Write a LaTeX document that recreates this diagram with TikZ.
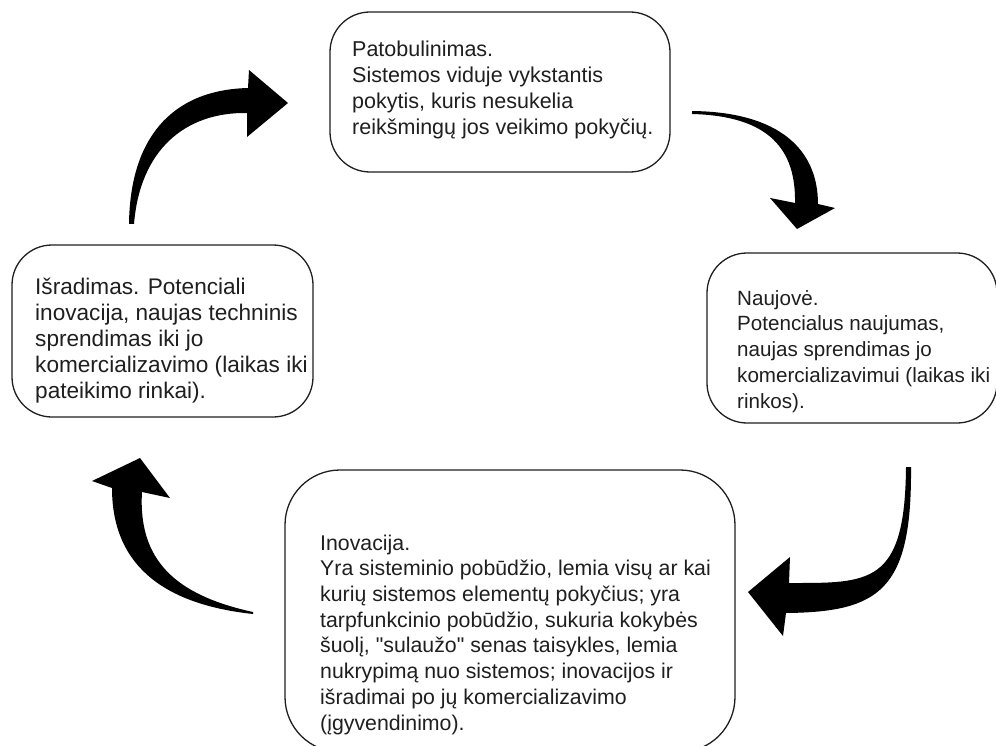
\documentclass[tikz,border=0pt]{standalone}
\usepackage{fontspec}
\setmainfont{Liberation Sans}
\newfontfamily\plainsans{Liberation Sans}
\begin{document}
\begin{tikzpicture}[x=1pt,y=-1pt,
  box/.style={draw=black!88, line width=1.3pt, rounded corners=40pt, inner sep=0pt},
  txt/.style={anchor=base west, align=left, inner sep=0pt, text=black!88},
  arr/.style={fill=black}]
\useasboundingbox (0,0) rectangle (996,746);
\fill[white] (0,0) rectangle (996,746);

% boxes
\node[box, minimum width=340pt, minimum height=160pt] (b1) at (500,92) {};
\node[box, minimum width=301pt, minimum height=172pt] (b2) at (162.5,331) {};
\node[box, minimum width=290pt, minimum height=170pt] (b3) at (852,338) {};
\node[box, minimum width=450pt, minimum height=282pt, rounded corners=55pt] (b4) at (510,611) {};

% texts (anchor = baseline of the last line)
\node[txt, font=\plainsans\fontsize{21.5}{26}\selectfont] (t1) at (352,135)
  {Patobulinimas.\\Sistemos viduje vykstantis\\pokytis, kuris nesukelia\\reikšmingų jos veikimo pokyčių.};
\node[txt, font=\plainsans\fontsize{22.6}{26.2}\selectfont] (t2) at (35,398.8)
  {Išradimas. Potenciali\\inovacija, naujas techninis\\sprendimas iki jo\\komercializavimo (laikas iki\\pateikimo rinkai).};
\node[txt, font=\plainsans\fontsize{20.6}{25.8}\selectfont] (t3) at (737,408.2)
  {Naujovė.\\Potencialus naujumas,\\naujas sprendimas jo\\komercializavimui (laikas iki\\rinkos).};
\node[txt, font=\plainsans\fontsize{21.3}{25.7}\selectfont] (t4) at (320,730)
  {Inovacija.\\Yra sisteminio pobūdžio, lemia visų ar kai\\kurių sistemos elementų pokyčius; yra\\tarpfunkcinio pobūdžio, sukuria kokybės\\šuolį, "sulaužo" senas taisykles, lemia\\nukrypimą nuo sistemos; inovacijos ir\\išradimai po jų komercializavimo\\(įgyvendinimo).};

% arrows
% left: from b2 up to b1
\fill[arr] (129,224) .. controls (130,140) and (170,90) .. (248,88)
  -- (249,70) -- (288,103) -- (247,137) -- (247,113)
  .. controls (185,112) and (140,150) .. (134,224) -- cycle;
% top right: from b1 down to b3
\fill[arr] (692,111) .. controls (780,112) and (818,150) .. (818,204)
  -- (835,208) -- (797,229) -- (770,198) -- (795,203)
  .. controls (796,150) and (770,116) .. (692,114) -- cycle;
% right bottom: from b3 to b4
\fill[arr] (906,467) .. controls (905,585) and (870,583) .. (789,583)
  -- (790,557) -- (748,592) -- (783,636) -- (786,613)
  .. controls (880,612) and (912,590) .. (911,467) -- cycle;
% bottom left: from b4 up to b2
\fill[arr] (253,614) .. controls (170,605) and (112,570) .. (112,488)
  -- (92,481) -- (140,458) -- (170,498) -- (142,492)
  .. controls (138,560) and (175,595) .. (253,612) -- cycle;
\end{tikzpicture}
\end{document}
